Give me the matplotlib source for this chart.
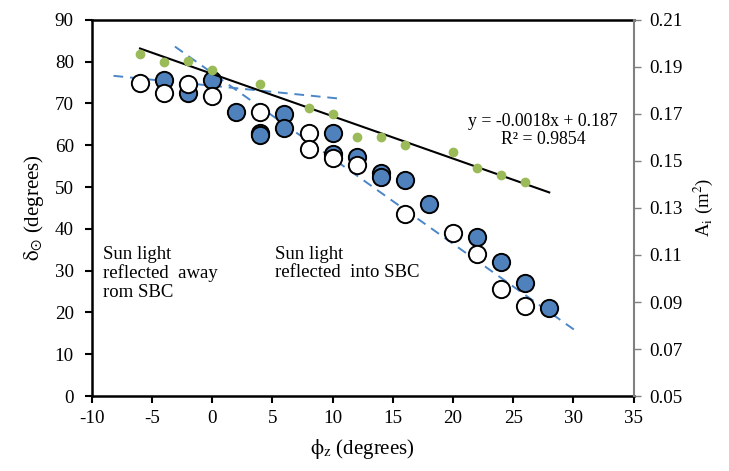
import numpy as np
import matplotlib
matplotlib.use("Agg")
import matplotlib.pyplot as plt

plt.rcParams["font.family"] = ["Liberation Serif", "DejaVu Serif"]
plt.rcParams["mathtext.fontset"] = "stix"
plt.rcParams["axes.unicode_minus"] = False

# =========================
# DATA
# =========================
# filled blue circles (left axis, degrees)
blue_x = [-4, -2, 0, 2, 4, 4, 6, 6, 10, 10, 12, 14, 14, 16, 18, 22, 24, 26, 28]
blue_y = [75.7, 72.6, 75.7, 68, 63, 62.5, 67.5, 64, 63, 58, 57.3, 53.4, 52.4, 51.6, 46, 38, 32, 27, 21]

# open circles (left axis, degrees)
open_x = [-6, -4, -2, 0, 4, 8, 8, 10, 12, 16, 20, 22, 24, 26]
open_y = [75, 72.4, 74.6, 71.8, 68, 63, 59, 57, 55.2, 43.5, 39, 34, 25.5, 21.5]

# green dots (right axis, m^2)
green_x = [-6, -4, -2, 0, 4, 8, 10, 12, 14, 16, 20, 22, 24, 26]
green_y = [0.1956, 0.192, 0.1923, 0.1887, 0.1826, 0.1726, 0.170, 0.160,
           0.160, 0.1568, 0.1537, 0.1471, 0.144, 0.1412]

# linear fit of green dots
fit_slope, fit_icpt = -0.0018, 0.187
fit_x = [-6, 28]

# dashed guide lines (left axis)
dash1_x, dash1_y = [-8.2, 10.4], [76.6, 71.2]
dash2_x, dash2_y = [-3.1, 30.5], [83.6, 15.0]

xticks = np.arange(-10, 36, 5)
yticks = np.arange(0, 91, 10)
y2ticks = [0.05, 0.07, 0.09, 0.11, 0.13, 0.15, 0.17, 0.19, 0.21]

# =========================
# PLOT
# =========================
fig = plt.figure(figsize=(7.29, 4.71), dpi=100)
ax = fig.add_axes([0.126, 0.159, 0.743, 0.799])
ax2 = ax.twinx()

blue = "#4f81bd"
dashc = "#4a86c8"

ax.plot(dash1_x, dash1_y, "--", color=dashc, lw=1.4, dashes=(5, 3.5), zorder=2)
ax.plot(dash2_x, dash2_y, "--", color=dashc, lw=1.4, dashes=(5, 3.5), zorder=2)

ax.scatter(blue_x, blue_y, s=155, facecolor=blue, edgecolor="black", lw=1.4, zorder=3)
ax.scatter(open_x, open_y, s=155, facecolor="white", edgecolor="black", lw=1.4, zorder=4)

fx = np.array(fit_x)
ax2.plot(fx, fit_slope * fx + fit_icpt, color="black", lw=1.5, zorder=2)
ax2.scatter(green_x, green_y, s=36, color="#9bbb59", zorder=3)

ax.set_xlim(-10, 35)
ax.set_ylim(0, 90)
ax2.set_ylim(0.05, 0.21)
ax.set_xticks(xticks)
ax.set_yticks(yticks)
ax2.set_yticks(y2ticks)
ax2.set_yticklabels([f"{v:.2f}" for v in y2ticks])

ax.tick_params(labelsize=13.7, width=1.5, length=5, direction="out", colors="black")
ax.tick_params(axis="y", pad=8)
ax.tick_params(axis="x", pad=5)
ax2.tick_params(labelsize=13.7, width=1, length=5, direction="out", color="#808080", pad=6)
for s in ["left", "bottom", "top"]:
    ax.spines[s].set_linewidth(1.8)
ax.spines["right"].set_visible(False)
for s in ["left", "bottom", "top"]:
    ax2.spines[s].set_visible(False)
ax2.spines["right"].set_color("#808080")
ax2.spines["right"].set_linewidth(1.5)

ax.set_xlabel(r"$\mathrm{\phi}_{\rm z}$ (degrees)", fontsize=15, labelpad=7)
ax.set_ylabel(r"$\mathrm{\delta}_{\odot}$ (degrees)", fontsize=15, labelpad=6)
ax2.set_ylabel(r"A$_{\rm i}$ (m$^2$)", fontsize=13.5, labelpad=7)

ax.text(-9.1, 36, "Sun light\nreflected  away\nrom SBC", fontsize=13.5,
        va="top", ha="left", linespacing=1.12)
ax.text(5.2, 36, "Sun light\nreflected  into SBC", fontsize=13.5,
        va="top", ha="left", linespacing=1.12)
ax.text(27.5, 63.6, "y = -0.0018x + 0.187\nR\u00b2 = 0.9854", fontsize=12.8,
        va="center", ha="center", linespacing=1.1)

fig.savefig("out.png", dpi=100)
